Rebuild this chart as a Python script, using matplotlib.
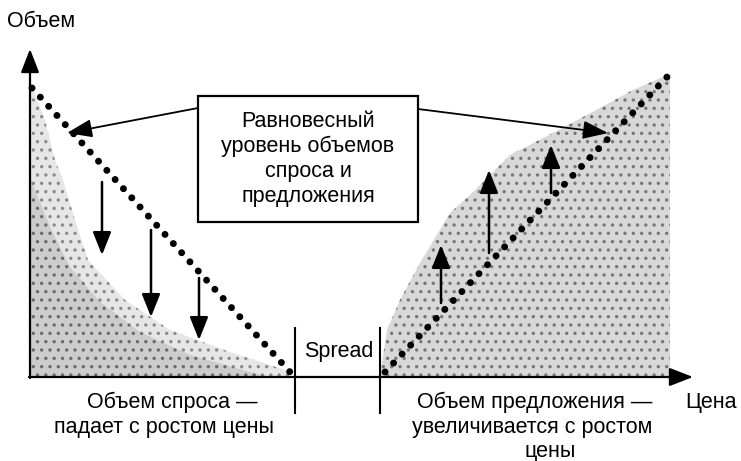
import matplotlib.pyplot as plt

plt.rcParams['font.family'] = ['Liberation Sans', 'DejaVu Sans']
plt.rcParams['hatch.linewidth'] = 1.2

# Координаты схемы: x - цена (от начала осей), y - объем
demand_x = [2, 260]
demand_y = [289, 5]
supply_x = [355, 637]
supply_y = [5, 300]

# Граница заштрихованной области спроса
demand_shade_x = [0, 2, 15, 25, 33, 45, 58, 95, 140, 200, 255, 262]
demand_shade_y = [292, 292, 257, 217, 197, 157, 117, 77, 47, 25, 7, 0]
demand_dense_x = [0, 20, 40, 70, 110, 160, 220, 240]
demand_dense_y = [200, 150, 110, 75, 45, 22, 5, 0]

# Граница заштрихованной области предложения
supply_shade_x = [350, 357, 370, 390, 420, 440, 480, 523, 570, 603, 637, 640]
supply_shade_y = [1, 47, 77, 114, 164, 182, 222, 244, 269, 287, 302, 302]

# Стрелки снижения спроса (x, начало, конец)
down_x = [72, 121, 169]
down_from = [195, 147, 99]
down_to = [122, 60, 37]

# Стрелки роста предложения
up_x = [411, 459, 521]
up_from = [74, 124, 184]
up_to = [132, 207, 232]

spread_x = [265, 350]

box_lines = ['Равновесный', 'уровень объемов', 'спроса и', 'предложения']
demand_lines = ['Объем спроса —', 'падает с ростом цены']
demand_lines_x = [142, 134]
supply_lines = ['Объем предложения —', 'увеличивается с ростом', 'цены']
supply_lines_x = [505, 502, 520]

FS = 15.5
LINE = 25

fig = plt.figure(figsize=(7.41, 4.61), dpi=100)
ax = fig.add_axes([0, 0, 1, 1])
ax.set_xlim(-30, 711)
ax.set_ylim(-84, 377)
ax.axis('off')

# штриховка
ax.fill_between(demand_shade_x, 0, demand_shade_y, facecolor='#e6e6e6',
                edgecolor='#8a8a8a', hatch='..', linewidth=0, zorder=1)
ax.fill_between(demand_dense_x, 0, demand_dense_y, facecolor='#cccccc',
                edgecolor='#6a6a6a', hatch='..', linewidth=0, zorder=1)
ax.fill_between(supply_shade_x, 0, supply_shade_y, facecolor='#d8d8d8',
                edgecolor='#777777', hatch='..', linewidth=0, zorder=1)

# пунктирные линии равновесия
for xs, ys in [(demand_x, demand_y), (supply_x, supply_y)]:
    ax.plot(xs, ys, color='black', linewidth=5,
            linestyle=(0, (0.01, 1.77)), dash_capstyle='round', zorder=3)

# оси
axis_arrow = dict(arrowstyle='-|>,head_width=0.35,head_length=0.9',
                  color='black', lw=1.6, mutation_scale=16, shrinkA=0, shrinkB=0)
ax.annotate('', xy=(0, 328), xytext=(0, -1), arrowprops=axis_arrow, zorder=4)
ax.annotate('', xy=(663, 0), xytext=(-1, 0), arrowprops=axis_arrow, zorder=4)

# вертикальные линии спреда
for sx in spread_x:
    ax.plot([sx, sx], [49, -36], color='black', lw=1.5, zorder=4)
ax.text(309, 20, 'Spread', ha='center', va='baseline', fontsize=FS, zorder=5)

small_arrow = dict(arrowstyle='-|>,head_width=0.4,head_length=1.0',
                   color='black', lw=1.8, mutation_scale=14, shrinkA=0, shrinkB=0)
for x, y0, y1 in zip(down_x, down_from, down_to):
    ax.annotate('', xy=(x, y1), xytext=(x, y0), arrowprops=small_arrow, zorder=4)
for x, y0, y1 in zip(up_x, up_from, up_to):
    ax.annotate('', xy=(x, y1), xytext=(x, y0), arrowprops=small_arrow, zorder=4)

# выноски
call_arrow = dict(arrowstyle='-|>,head_width=0.4,head_length=1.1',
                  color='black', lw=1.3, mutation_scale=14, shrinkA=0, shrinkB=0)
ax.annotate('', xy=(37, 244), xytext=(168, 269), arrowprops=call_arrow, zorder=4)
ax.annotate('', xy=(578, 244), xytext=(388, 268), arrowprops=call_arrow, zorder=4)

# рамка с текстом
ax.add_patch(plt.Rectangle((168, 155), 220, 126, facecolor='white',
                           edgecolor='black', lw=1.6, zorder=5))
for i, line in enumerate(box_lines):
    ax.text(278, 250 - i * LINE, line, ha='center', va='baseline',
            fontsize=FS, zorder=6)

# подписи
ax.text(-23, 350, 'Объем', ha='left', va='baseline', fontsize=FS)
ax.text(655, -31, 'Цена', ha='left', va='baseline', fontsize=FS)
for i, (line, lx) in enumerate(zip(demand_lines, demand_lines_x)):
    ax.text(lx, -31 - i * LINE, line, ha='center', va='baseline', fontsize=FS)
for i, (line, lx) in enumerate(zip(supply_lines, supply_lines_x)):
    ax.text(lx, -31 - i * 24.5, line, ha='center', va='baseline', fontsize=FS)

fig.savefig('out.png', dpi=100)
